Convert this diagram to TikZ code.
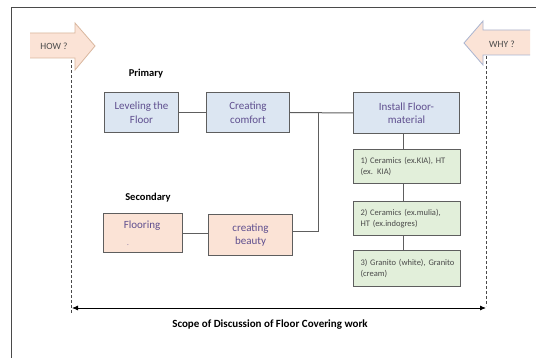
\documentclass[tikz,border=0pt]{standalone}
\usepackage{fontspec}
\setmainfont{Carlito}
\usetikzlibrary{arrows.meta}
\definecolor{bluefill}{HTML}{DCE6F2}
\definecolor{greenfill}{HTML}{E2EFDA}
\definecolor{peachfill}{HTML}{FBE3D6}
\definecolor{boxline}{HTML}{5E5E5E}
\definecolor{txtpurple}{HTML}{5F4F8F}
\definecolor{txtgray}{HTML}{4A4A4A}
\definecolor{arrowline}{HTML}{D9B79E}
\definecolor{arrowline2}{HTML}{A9B4D0}
\begin{document}
\begin{tikzpicture}[x=1pt,y=-1pt,
  box/.style={draw=boxline,line width=1pt,inner sep=0pt,anchor=north west,font=\fontsize{11}{13.5}\selectfont,text=txtpurple,align=center},
  gbox/.style={draw=boxline,line width=1pt,fill=greenfill,inner sep=0pt,anchor=north west,font=\fontsize{8.5}{10.5}\selectfont,text=txtgray,align=left,text width=105pt},
  conn/.style={draw=boxline,line width=1pt},
  lbl/.style={font=\bfseries\fontsize{10.5}{12}\selectfont,text=black},
  dashline/.style={draw=txtgray,line width=1pt,dash pattern=on 3pt off 2pt}]
\useasboundingbox (0,0) rectangle (536,358);
\fill[white] (0,0) rectangle (536,358);
% frame
\draw[draw=txtgray,line width=0.8pt] (11,358) -- (11,7) -- (536,7);
% HOW arrow
\path[fill=peachfill] (30,33) -- (75,33) -- (75,23) -- (95,46) -- (75,70) -- (75,58) -- (30,58) -- cycle;
\draw[draw=arrowline,line width=0.8pt] (30,33) -- (75,33) -- (75,23) -- (95,46) -- (75,70) -- (75,58) -- (30,58);
\node[font=\fontsize{9.5}{10}\selectfont,text=txtgray] (how) at (54,46) {HOW ?};
% WHY arrow
\path[fill=peachfill] (530,30) -- (483,30) -- (483,21) -- (464,43) -- (483,65) -- (483,55) -- (530,55) -- cycle;
\draw[draw=arrowline2,line width=0.8pt] (530,30) -- (483,30) -- (483,21) -- (464,43) -- (483,65) -- (483,55) -- (530,55);
\node[font=\fontsize{9.5}{10}\selectfont,text=txtgray] (why) at (502,44) {WHY ?};
% dashed verticals
\coordinate (lt) at (71,60);
\coordinate (lb) at (71,314);
\coordinate (rt) at (486,56);
\coordinate (rb) at (486,306);
\draw[dashline] (lt) -- (lb);
\draw[dashline] (rt) -- (rb);
% scope arrow
\coordinate (sl) at (72,308);
\coordinate (sr) at (486,308);
\draw[line width=0.8pt,{Latex[length=6pt,width=5pt]}-{Latex[length=6pt,width=5pt]}] (sl) -- (sr);
\node[lbl,font=\bfseries\fontsize{11}{12}\selectfont] (scope) at (270,325) {Scope of Discussion of Floor Covering work};
% labels
\node[lbl] (primary) at (146,74) {Primary};
\node[lbl] (secondary) at (148,198) {Secondary};
% primary boxes
\node[box,fill=bluefill,minimum width=74pt,minimum height=40pt] (lev) at (104,92) {Leveling the\\Floor};
\node[box,fill=bluefill,minimum width=83pt,minimum height=40pt] (com) at (206,92) {Creating\\comfort};
\node[box,fill=bluefill,minimum width=106pt,minimum height=41pt] (ins) at (353,92) {Install Floor-\\material};
% green boxes
\node[gbox,minimum width=107pt,minimum height=34pt] (g1) at (353,149) {\hspace*{6pt}1) Ceramics (ex.KIA), HT\\\hspace*{6pt}(ex. KIA)};
\node[gbox,minimum width=107pt,minimum height=34pt] (g2) at (353,201) {\hspace*{6pt}2) Ceramics (ex.mulia),\\\hspace*{6pt}HT (ex.indogres)};
\node[gbox,minimum width=107pt,minimum height=36pt] (g3) at (353,250) {\hspace*{6pt}3) Granito (white), Granito\\\hspace*{6pt}(cream)};
% secondary boxes
\node[box,fill=peachfill,minimum width=79pt,minimum height=39pt] (flo) at (103,213) {};
\node[font=\fontsize{11}{12}\selectfont,text=txtpurple] (flot) at (142,226) {Flooring};
\node[font=\fontsize{7}{8}\selectfont,text=txtpurple] (flod) at (128,245) {.};
\node[box,fill=peachfill,minimum width=84pt,minimum height=41pt] (bea) at (208,214) {creating\\beauty};
% connectors
\coordinate (j1) at (318,112);
\coordinate (j2) at (318,232);
\draw[conn] (lev.east) -- (com.west);
\draw[conn] (com.east) -- (ins.west);
\draw[conn] (j1) -- (j2) -- (bea.east |- j2);
\draw[conn] (flo.east |- 0,234) -- (bea.west |- 0,234);
\draw[conn] (ins.south -| 403,0) -- (g1.north -| 403,0);
\draw[conn] (g1.south -| 403,0) -- (g2.north -| 403,0);
\draw[conn] (g2.south -| 403,0) -- (g3.north -| 403,0);
\end{tikzpicture}
\end{document}
